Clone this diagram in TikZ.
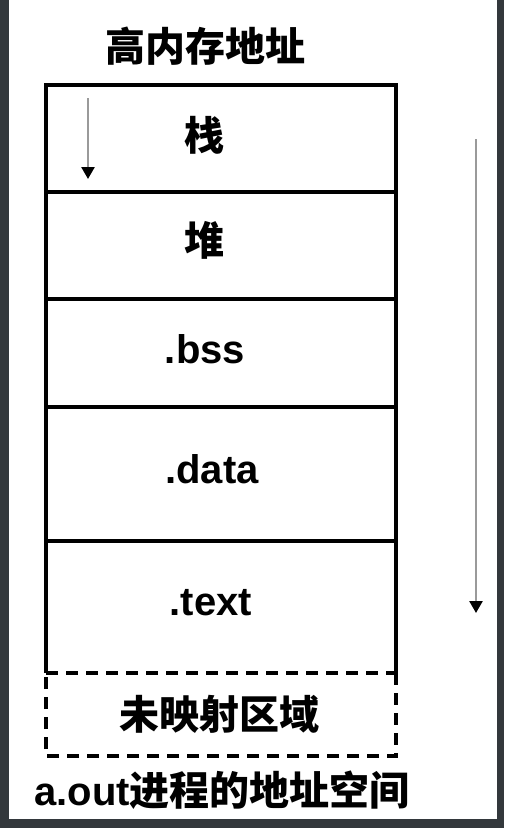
\documentclass[tikz,border=0pt]{standalone}
\usepackage{fontspec}
\setmainfont{Liberation Sans}
\newfontfamily\cjk{Noto Sans CJK SC}
\usetikzlibrary{arrows.meta}
\definecolor{framedark}{HTML}{33383C}
\definecolor{arrowgray}{HTML}{9A9A9A}
\tikzset{
  boxline/.style={line width=3.5pt, black},
  dashline/.style={line width=3.5pt, black, dash pattern=on 12pt off 8pt},
  flowarrow/.style={line width=2.6pt, arrowgray, -{Triangle[black,length=12pt,width=13pt]}},
  cjklabel/.style={font=\fontsize{40}{44}\selectfont\cjk\bfseries, inner sep=0pt, anchor=center},
  latlabel/.style={font=\fontsize{40}{44}\selectfont\bfseries, inner sep=0pt, anchor=base},
}
\begin{document}
\begin{tikzpicture}[x=1pt,y=-1pt]
\useasboundingbox (0,0) rectangle (504,828);
\fill[framedark] (0,0) rectangle (504,828);
\fill[white] (9,0) rectangle (497,819);

% segment boundaries
\coordinate (tl) at (46,85);
\coordinate (tr) at (396,85);
\coordinate (l1) at (46,192);  \coordinate (r1) at (396,192);
\coordinate (l2) at (46,299);  \coordinate (r2) at (396,299);
\coordinate (l3) at (46,407);  \coordinate (r3) at (396,407);
\coordinate (l4) at (46,541);  \coordinate (r4) at (396,541);
\coordinate (l5) at (46,673);  \coordinate (r5) at (396,673);
\coordinate (l6) at (46,756);  \coordinate (r6) at (396,756);

\draw[boxline] (l5) -- (tl) -- (tr) -- (r5);
\draw[boxline] (l1) -- (r1);
\draw[boxline] (l2) -- (r2);
\draw[boxline] (l3) -- (r3);
\draw[boxline] (l4) -- (r4);
\draw[dashline] (l5) -- (r5);
\draw[dashline] (r5) -- (r6) -- (l6) -- (l5);

\node[cjklabel] (title) at (205,46) {高内存地址};
\node[cjklabel] (stack) at (204,135) {栈};
\node[cjklabel] (heap) at (204,240) {堆};
\node[latlabel] (bss) at (205,363) {.bss};
\node[latlabel] (data) at (212,483) {.data};
\node[latlabel] (text) at (211,615) {.text};
\node[cjklabel] (unmapped) at (219,714) {未映射区域};
\node[font=\fontsize{40}{44}\selectfont\bfseries, inner sep=0pt, anchor=base] (caption) at (222,805) {a.out{\cjk\bfseries 进程的地址空间}};

\coordinate (sa) at (88,98);
\coordinate (sb) at (88,179);
\draw[flowarrow] (sa) -- (sb);
\coordinate (ra) at (476,139);
\coordinate (rb) at (476,613);
\draw[flowarrow] (ra) -- (rb);
\end{tikzpicture}
\end{document}
